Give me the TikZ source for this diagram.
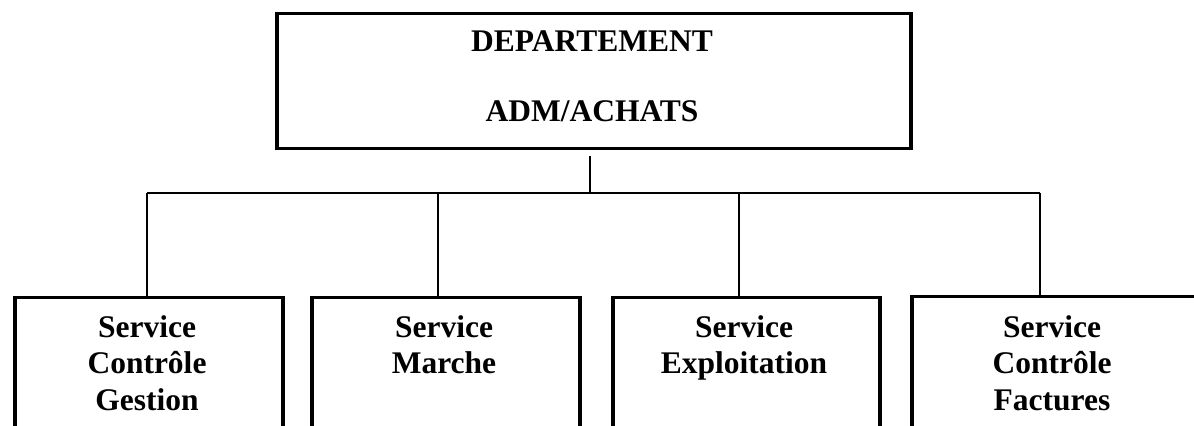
\documentclass[tikz,border=0pt]{standalone}
\usepackage{fontspec}
\setmainfont{Liberation Serif}
\begin{document}
\begin{tikzpicture}[x=0.5pt,y=-0.5pt,
  boxline/.style={draw,line width=1.75pt,inner sep=0pt,anchor=north west},
  unitbox/.style={boxline,minimum width=134pt,minimum height=75pt},
  link/.style={line width=1pt},
  headlabel/.style={font=\fontsize{15.75}{35}\selectfont\bfseries,align=center,inner sep=0pt,anchor=north},
  unitlabel/.style={font=\fontsize{15.75}{18.25}\selectfont\bfseries,align=center,inner sep=0pt,anchor=north}]
\useasboundingbox (0,0) rectangle (1194,426);
\clip (0,0) rectangle (1194,426);

% department box
\node[boxline,minimum width=317pt,minimum height=67.5pt] (dept) at (275,12) {};
\node[headlabel] (deptname) at (592,30) {DEPARTEMENT\\ADM/ACHATS};

% service boxes (open at the bottom of the page)
\node[unitbox] (s1) at (13,296) {};
\node[unitbox] (s2) at (310,296) {};
\node[unitbox,minimum width=133.5pt] (s3) at (611,296) {};
\node[unitbox,minimum width=142pt] (s4) at (910,295) {};

\node[unitlabel] (t1) at (147,315) {Service\\Contrôle\\Gestion};
\node[unitlabel] (t2) at (444,315) {Service\\Marche};
\node[unitlabel] (t3) at (744,315) {Service\\Exploitation};
\node[unitlabel] (t4) at (1052,315) {Service\\Contrôle\\Factures};

% connectors
\coordinate (stub) at (590,156);
\coordinate (hub) at (590,193);
\coordinate (d1) at (147,193);
\coordinate (d2) at (438,193);
\coordinate (d3) at (739,193);
\coordinate (d4) at (1040,193);
\draw[link] (stub) -- (hub);
\draw[link] (d1) -- (d4);
\draw[link] (d1) -- (d1 |- s1.north);
\draw[link] (d2) -- (d2 |- s2.north);
\draw[link] (d3) -- (d3 |- s3.north);
\draw[link] (d4) -- (d4 |- s4.north);
\end{tikzpicture}
\end{document}
